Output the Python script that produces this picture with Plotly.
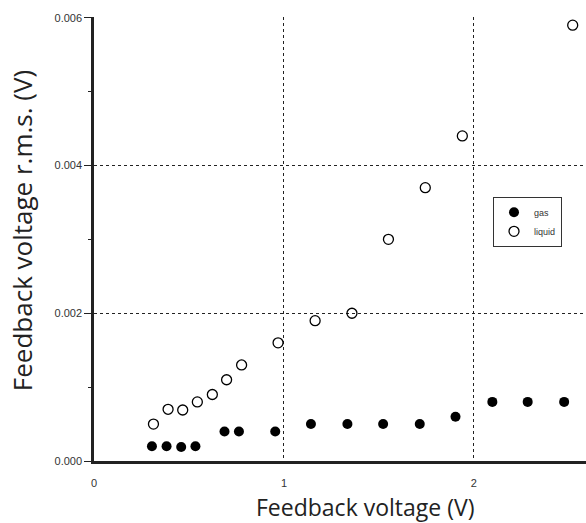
import plotly.graph_objects as go

gas_x = [0.305, 0.382, 0.459, 0.534, 0.687, 0.763, 0.954, 1.142, 1.334, 1.522, 1.715, 1.903, 2.097, 2.283, 2.475]
gas_y = [0.0002, 0.0002, 0.00019, 0.0002, 0.0004, 0.0004, 0.0004, 0.0005, 0.0005, 0.0005, 0.0005, 0.0006, 0.0008, 0.0008, 0.0008]
liq_x = [0.313, 0.39, 0.467, 0.544, 0.623, 0.698, 0.777, 0.969, 1.164, 1.358, 1.55, 1.744, 1.939, 2.52]
liq_y = [0.0005, 0.0007, 0.00069, 0.0008, 0.0009, 0.0011, 0.0013, 0.0016, 0.0019, 0.002, 0.003, 0.0037, 0.0044, 0.0059]

x_ticks = [0, 1, 2]
y_ticks = [0, 0.002, 0.004, 0.006]
y_labels = ["0.000", "0.002", "0.004", "0.006"]

x_title = "Feedback voltage (V)"
y_title = "Feedback voltage r.m.s. (V)"

fig = go.Figure()
fig.add_trace(go.Scatter(x=gas_x, y=gas_y, mode="markers", name="gas",
                         marker=dict(symbol="circle", size=10, color="black",
                                     line=dict(color="black", width=0))))
fig.add_trace(go.Scatter(x=liq_x, y=liq_y, mode="markers", name="liquid",
                         marker=dict(symbol="circle-open", size=10, color="black",
                                     line=dict(color="black", width=1.3))))

fig.update_layout(
    width=586, height=523,
    margin=dict(l=94, r=0, t=17, b=62),
    paper_bgcolor="white", plot_bgcolor="white",
    font=dict(family="Liberation Sans, Arial, sans-serif", color="#333"),
    showlegend=True,
    legend=dict(x=0.811, y=0.595, xanchor="left", yanchor="top",
                bordercolor="#333", borderwidth=1, bgcolor="white",
                font=dict(size=9, color="#333"),
                itemwidth=30, tracegroupgap=2),
    xaxis=dict(range=[0, 2.59], tickvals=x_ticks, ticktext=[str(v) for v in x_ticks],
               showgrid=True, gridcolor="#222", griddash="3px,3px", gridwidth=1,
               showline=True, linecolor="#222", linewidth=2.5,
               ticks="", ticklabelstandoff=10, zeroline=False,
               tickfont=dict(size=11, color="#333")),
    yaxis=dict(range=[0, 0.00601], tickvals=y_ticks, ticktext=y_labels,
               showgrid=True, gridcolor="#222", griddash="3px,3px", gridwidth=1,
               showline=True, linecolor="#222", linewidth=2.5,
               ticks="outside", ticklen=7, tickwidth=1, tickcolor="#222",
               minor=dict(tickvals=[0.001, 0.003, 0.005], ticks="outside", ticklen=3,
                          tickwidth=1, tickcolor="#222", showgrid=False),
               zeroline=False,
               tickfont=dict(size=11, color="#333")),
    annotations=[
        dict(text=x_title, xref="paper", yref="paper", x=0.551, y=-0.104,
             xanchor="center", yanchor="middle", showarrow=False, borderpad=0,
             font=dict(family="Open Sans, Noto Sans, sans-serif", size=23, color="#222")),
        dict(text=y_title, xref="paper", yref="paper", x=-0.146, y=0.518,
             xanchor="center", yanchor="middle", textangle=-90, showarrow=False,
             font=dict(family="Open Sans, Noto Sans, sans-serif", size=26, color="#222")),
    ],
)

fig.write_html("out.html")
